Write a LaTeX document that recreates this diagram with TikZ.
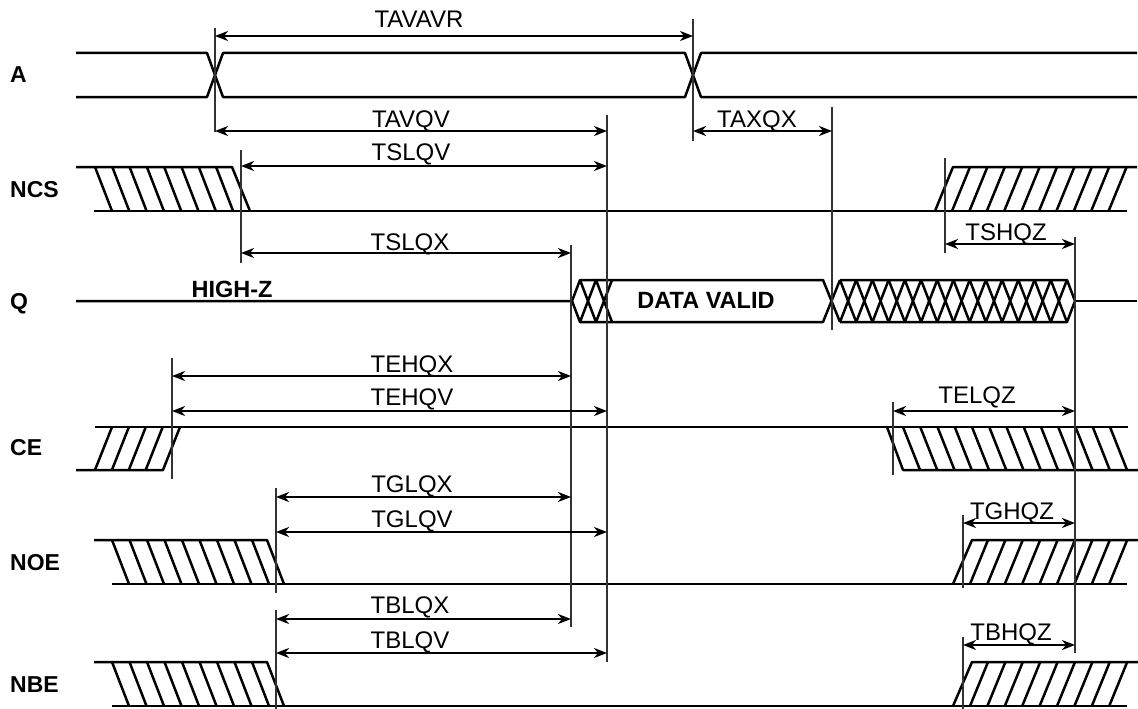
\documentclass[tikz,border=0pt]{standalone}
\usepackage{fontspec}
\setmainfont{Liberation Sans}
\usetikzlibrary{arrows.meta}
\newcommand\tdim[7]{%
  \coordinate (#1-a) at (#2,#4);
  \coordinate (#1-b) at (#3,#4);
  \draw[dimline] (#1-a) -- (#1-b);
  \node[lbl] (#1-t) at (#6,#7) {#5};}
\begin{document}
\begin{tikzpicture}[x=1pt,y=-1pt,
  sig/.style={line width=2.5pt, line join=round},
  refl/.style={line width=1.1pt, black!80},
  dimline/.style={line width=2.2pt,
    {Stealth[length=13pt,width=10pt,inset=4pt]}-{Stealth[length=13pt,width=10pt,inset=4pt]}},
  lbl/.style={font=\fontsize{24}{28}\selectfont, inner sep=0pt, anchor=base},
  sname/.style={font=\fontsize{23}{27}\selectfont\bfseries, inner sep=0pt, anchor=base west},
  blbl/.style={font=\fontsize{23.5}{28}\selectfont\bfseries, inner sep=0pt, anchor=base},
]
\useasboundingbox[fill=white] (0,0) rectangle (1138,709);

% signal names
\node[sname] (nA)   at (10,83)  {A};
\node[sname] (nNCS) at (10,197) {NCS};
\node[sname] (nQ)   at (10,309) {Q};
\node[sname] (nCE)  at (10,455) {CE};
\node[sname] (nNOE) at (10,570) {NOE};
\node[sname] (nNBE) at (10,692) {NBE};

% ---- A
\draw[sig] (76,53) -- (207,53) -- (223,97) -- (685,97) -- (701,53) -- (1137,53);
\draw[sig] (76,97) -- (207,97) -- (223,53) -- (685,53) -- (701,97) -- (1137,97);

% ---- NCS
\draw[sig] (76,167) -- (232,167) -- (250,211);
\draw[sig] (94,211) -- (1127,211);
\foreach \k in {0,...,7}
  \draw[sig] ({95+17.3*\k},167) -- ({112+17.3*\k},211);
\draw[sig] (935,211) -- (953,167) -- (1137,167);
\foreach \k in {0,...,9}
  \draw[sig] ({970+17.4*\k},167) -- ({952+17.4*\k},211);

% ---- Q
\draw[sig] (76,301) -- (572,301) -- (580,280) -- (823,280) -- (840,322);
\draw[sig] (572,301) -- (580,322) -- (823,322) -- (840,280);
\draw[sig] (580,280) -- (596,322) -- (612,280);
\draw[sig] (580,322) -- (596,280) -- (612,322);
\draw[sig] (840,280) -- (1067,280) -- (1075,301) -- (1067,322) -- (840,322);
\foreach \k in {0,...,13}{
  \draw[sig] ({840+16.21*\k},280) -- ({840+16.21*(\k+1)},322);
  \draw[sig] ({840+16.21*\k},322) -- ({840+16.21*(\k+1)},280);}
\draw[sig] (1075,301) -- (1137,301);
\node[blbl] (hz) at (232,297) {HIGH-Z};
\node[blbl] (dv) at (706,308) {DATA VALID};

% ---- CE
\draw[sig] (95,427) -- (1128,427);
\draw[sig] (76,470) -- (163,470) -- (180,427);
\foreach \k in {0,...,3}
  \draw[sig] ({95+16.9*\k},470) -- ({112+16.9*\k},427);
\draw[sig] (887,427) -- (903,470) -- (1138,470);
\foreach \k in {0,...,12}
  \draw[sig] ({903+17.25*\k},427) -- ({920+17.25*\k},470);

% ---- NOE
\draw[sig] (94,540) -- (267,540) -- (284,584);
\draw[sig] (112,584) -- (1127,584);
\foreach \k in {0,...,8}
  \draw[sig] ({112+17.5*\k},540) -- ({129+17.5*\k},584);
\draw[sig] (953,584) -- (972,540) -- (1138,540);
\foreach \k in {0,...,8}
  \draw[sig] ({988+17.4*\k},540) -- ({970+17.4*\k},584);

% ---- NBE
\draw[sig] (94,662) -- (267,662) -- (284,706);
\draw[sig] (112,706) -- (1127,706);
\foreach \k in {0,...,8}
  \draw[sig] ({112+17.5*\k},662) -- ({129+17.5*\k},706);
\draw[sig] (953,706) -- (972,662) -- (1138,662);
\foreach \k in {0,...,8}
  \draw[sig] ({988+17.4*\k},662) -- ({970+17.4*\k},706);

% ---- reference lines
\draw[refl] (215,28) -- (215,132);
\draw[refl] (693,19) -- (693,141);
\draw[refl] (607,115) -- (607,662);
\draw[refl] (241,150) -- (241,263);
\draw[refl] (571,245) -- (571,627);
\draw[refl] (832,107) -- (832,330);
\draw[refl] (945,158) -- (945,253);
\draw[refl] (1075,237) -- (1075,653);
\draw[refl] (172,358) -- (172,479);
\draw[refl] (893,402) -- (893,475);
\draw[refl] (276,488) -- (276,593);
\draw[refl] (276,610) -- (276,709);
\draw[refl] (963,515) -- (963,588);
\draw[refl] (963,637) -- (963,709);

% ---- timing arrows
\tdim{tavavr}{215}{693}{36}{TAVAVR}{419}{28}
\tdim{tavqv}{215}{607}{131}{TAVQV}{411}{127}
\tdim{taxqx}{693}{832}{131}{TAXQX}{757}{127}
\tdim{tslqv}{241}{607}{166}{TSLQV}{411}{160}
\tdim{tslqx}{241}{571}{253}{TSLQX}{410}{250}
\tdim{tshqz}{945}{1075}{244}{TSHQZ}{1006}{240}
\tdim{tehqx}{172}{571}{376}{TEHQX}{412}{372}
\tdim{tehqv}{172}{607}{411}{TEHQV}{412}{405}
\tdim{telqz}{893}{1075}{411}{TELQZ}{977}{403}
\tdim{tglqx}{276}{571}{497}{TGLQX}{412}{492}
\tdim{tglqv}{276}{607}{532}{TGLQV}{412}{527}
\tdim{tghqz}{963}{1075}{523}{TGHQZ}{1012}{519}
\tdim{tblqx}{276}{571}{619}{TBLQX}{410}{613}
\tdim{tblqv}{276}{607}{653}{TBLQV}{410}{648}
\tdim{tbhqz}{963}{1075}{645}{TBHQZ}{1011}{640}
\end{tikzpicture}
\end{document}
